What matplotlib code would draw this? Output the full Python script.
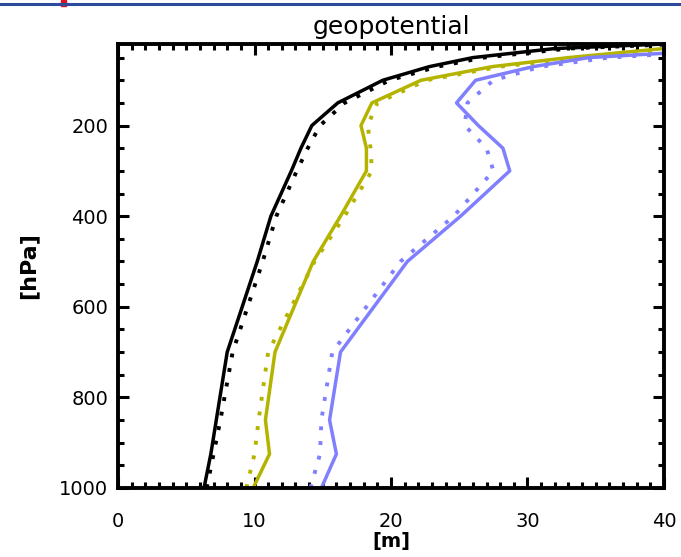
import matplotlib
matplotlib.use('Agg')
from matplotlib import pyplot as plt
from matplotlib.lines import Line2D
from matplotlib.patches import Rectangle
import numpy as np

# pressure levels [hPa]
levels = [1000, 925, 850, 700, 500, 400, 300, 250, 200, 150, 100, 70, 50, 30, 20]

# geopotential [m], solid = one run, dotted = the other
black_solid = [6.3, 6.8, 7.2, 8.0, 10.2, 11.2, 12.7, 13.4, 14.2, 16.1, 19.4, 22.8, 26.0, 32.0, 40.0]
black_dot = [6.5, 7.0, 7.5, 8.4, 10.6, 11.6, 13.1, 13.9, 14.8, 16.6, 19.9, 23.4, 26.8, 33.0, 41.0]
yellow_solid = [9.9, 11.1, 10.8, 11.5, 14.3, 16.3, 18.2, 18.2, 17.8, 18.6, 22.2, 27.4, 33.0, 40.0, 46.0]
yellow_dot = [9.4, 10.0, 10.3, 11.0, 14.4, 16.6, 18.6, 18.5, 18.3, 19.0, 22.6, 28.0, 34.0, 41.0, 47.0]
blue_solid = [14.9, 16.0, 15.5, 16.3, 21.2, 25.1, 28.7, 28.2, 26.4, 24.8, 26.2, 30.4, 34.5, 46.0, 55.0]
blue_dot = [14.1, 14.8, 14.9, 15.7, 20.7, 24.6, 27.5, 27.0, 25.4, 25.6, 27.5, 31.0, 36.0, 47.0, 56.0]

yellow = '#b4b400'
blue = '#8080ff'
dots = (0, (1, 2.8))

fig = plt.figure(figsize=(6.81, 5.57), dpi=100)
ax = fig.add_axes([0.1733, 0.1239, 0.8017, 0.7971])

ax.plot(black_solid, levels, color='black', lw=2.5)
ax.plot(black_dot, levels, color='black', lw=2.8, linestyle=dots)
ax.plot(yellow_solid, levels, color=yellow, lw=2.5)
ax.plot(yellow_dot, levels, color=yellow, lw=2.8, linestyle=dots)
ax.plot(blue_solid, levels, color=blue, lw=2.5)
ax.plot(blue_dot, levels, color=blue, lw=2.8, linestyle=dots)

ax.set_xlim(0, 40)
ax.set_ylim(1000, 20)
ax.set_xticks([0, 10, 20, 30, 40])
ax.set_xticks(np.arange(0, 41, 1), minor=True)
ax.set_yticks([200, 400, 600, 800, 1000])
ax.set_yticks(np.arange(50, 1001, 50), minor=True)

for s in ax.spines.values():
    s.set_linewidth(2.8)
ax.tick_params(which='both', direction='in', top=True, right=True, width=2.2)
ax.tick_params(which='major', length=8, labelsize=14, pad=7)
ax.tick_params(which='minor', length=4)
ax.tick_params(axis='x', which='major', pad=17)

ax.set_title('geopotential', fontsize=18, pad=7)
ax.set_xlabel('[m]', fontsize=14, fontweight='bold', labelpad=1)
ax.set_ylabel('[hPa]', fontsize=16, fontweight='bold', labelpad=15)

# slide decoration at the top
fig.add_artist(Line2D([0, 1], [0.993, 0.993], color='#2e4a9a', lw=2.2, transform=fig.transFigure))
fig.add_artist(Rectangle((0.089, 0.989), 0.008, 0.011, color='#e0102a', transform=fig.transFigure))

plt.savefig('out.png')
